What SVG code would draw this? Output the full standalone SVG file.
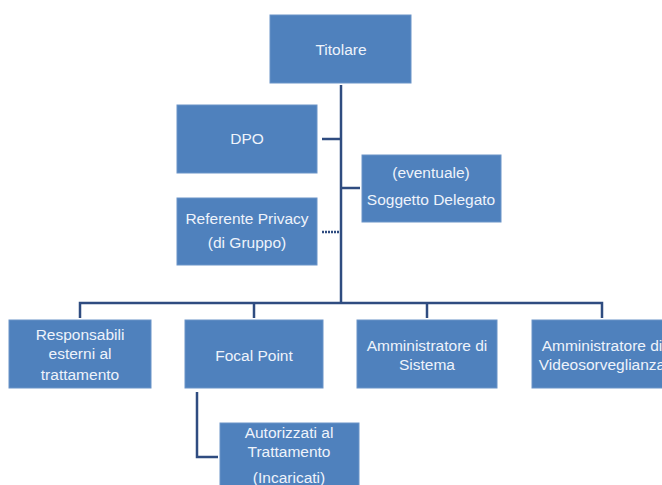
<svg xmlns="http://www.w3.org/2000/svg" width="662" height="485" viewBox="0 0 662 485">
<style>
.box{fill:#4f81bd;stroke:#6b94c8;stroke-width:1}
.t{font-family:"Liberation Sans",Arial,sans-serif;font-size:15.5px;fill:#eef3fb;text-anchor:middle}
.c{fill:none;stroke:#2f4c80;stroke-width:2.5}
</style>
<rect width="662" height="485" fill="#ffffff"/>
<g id="connectors">
<path class="c" d="M341 85 V303"/>
<path class="c" d="M80 318 V303 H602 V318"/>
<path class="c" d="M254 303 V318"/>
<path class="c" d="M427 303 V318"/>
<path class="c" d="M322 139 H341"/>
<path class="c" d="M341 188 H360"/>
<path class="c" d="M322 232 H341" stroke="#5a6f98" stroke-width="2" stroke-dasharray="2 1"/>
<path class="c" d="M197 392 V457 H218"/>
</g>
<g id="titolare"><rect class="box" x="270" y="15" width="141" height="68"/><text class="t" x="341" y="55">Titolare</text></g>
<g id="dpo"><rect class="box" x="177" y="105" width="140" height="68"/><text class="t" x="247" y="144">DPO</text></g>
<g id="delegato"><rect class="box" x="362" y="155" width="139" height="67"/><text class="t" x="431" y="178">(eventuale)</text><text class="t" x="431" y="205">Soggetto Delegato</text></g>
<g id="referente"><rect class="box" x="177" y="198" width="140" height="67"/><text class="t" x="247" y="224">Referente Privacy</text><text class="t" x="247" y="248">(di Gruppo)</text></g>
<g id="responsabili"><rect class="box" x="9" y="320" width="142" height="68"/><text class="t" x="80" y="340">Responsabili</text><text class="t" x="80" y="359">esterni al</text><text class="t" x="80" y="380">trattamento</text></g>
<g id="focal"><rect class="box" x="185" y="320" width="138" height="68"/><text class="t" x="254" y="361">Focal Point</text></g>
<g id="sistema"><rect class="box" x="357" y="320" width="140" height="68"/><text class="t" x="427" y="351">Amministratore di</text><text class="t" x="427" y="370">Sistema</text></g>
<g id="video"><rect class="box" x="532" y="320" width="140" height="68"/><text class="t" x="602" y="351">Amministratore di</text><text class="t" x="602" y="370">Videosorveglianza</text></g>
<g id="autorizzati"><rect class="box" x="220" y="423" width="139" height="70"/><text class="t" x="289" y="438">Autorizzati al</text><text class="t" x="289" y="457">Trattamento</text><text class="t" x="289" y="483">(Incaricati)</text></g>
</svg>
